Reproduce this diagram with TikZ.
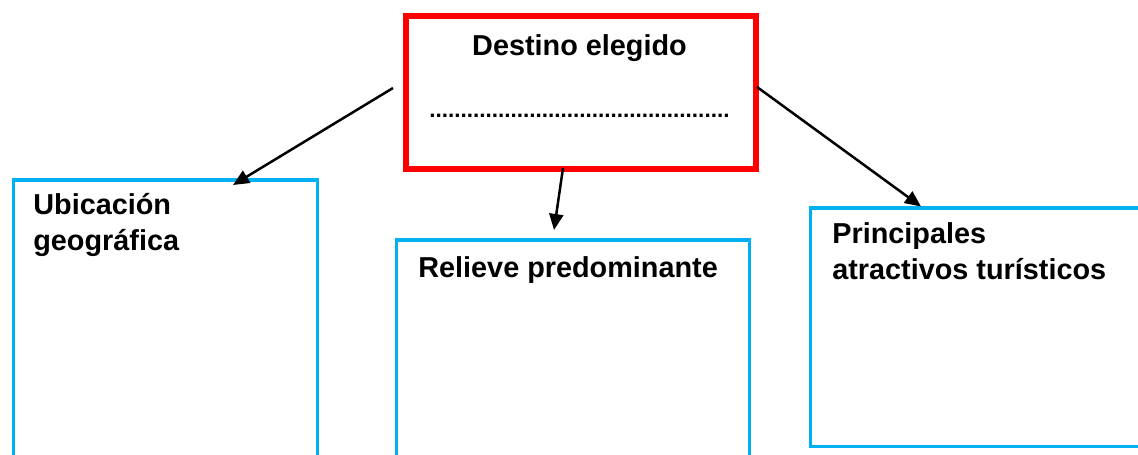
\documentclass[tikz,border=0pt]{standalone}
\usepackage{fontspec}
\setmainfont{Liberation Sans}
\usetikzlibrary{arrows.meta}
\definecolor{boxblue}{RGB}{0,176,240}
\definecolor{boxred}{RGB}{255,0,0}

\begin{document}
\begin{tikzpicture}[
        bluebox/.style = {draw = boxblue, line width = 0.066cm, anchor = north west, inner sep = 0},
        title/.style = {anchor = base west, align = left, inner sep = 0, font = \fontsize{16.4}{20.6}\selectfont\bfseries},
        arrow/.style = {-{Triangle[length = 0.32cm, width = 0.28cm]}, line width = 0.05cm}
    ]
        \useasboundingbox (0, 0) rectangle (22.76, 9.1);
        \clip (0, 0) rectangle (22.76, 9.1);
        \node [draw = boxred, line width = 0.11cm, minimum width = 7cm, minimum height = 3.06cm, inner sep = 0] (destino) at (11.62, 7.25) {};
        \node [anchor = base, inner sep = 0, font = \fontsize{16.4}{20.6}\selectfont\bfseries] (destinotxt) at (11.59, 7.98) {Destino elegido};
        \node [anchor = base west, inner sep = 0, font = \fontsize{12.8}{15}\selectfont\bfseries] (puntos) at (8.58, 6.74) {................................................};
        \node [bluebox, minimum width = 6.09cm, minimum height = 6.1cm] (ubicacion) at (0.23, 5.53) {};
        \node [bluebox, minimum width = 7.05cm, minimum height = 5cm] (relieve) at (7.9, 4.33) {};
        \node [bluebox, minimum width = 7.1cm, minimum height = 4.77cm] (atractivos) at (16.17, 4.97) {};
        % base of the last line
        \node [title] (ubicaciontxt) at (0.66, 4.08) {Ubicación\\geográfica};
        \node [title] (relievetxt) at (8.36, 3.54) {Relieve predominante};
        \node [title] (atractivostxt) at (16.64, 3.5) {Principales\\atractivos turísticos};
        % ends of the arrows
        \coordinate (izq) at (7.86, 7.34);
        \coordinate (centro) at (11.26, 5.74);
        \coordinate (der) at (15.14, 7.36);
        \coordinate (ubicacionpunta) at (4.66, 5.4);
        \coordinate (relievepunta) at (11.08, 4.5);
        \coordinate (atractivospunta) at (18.42, 4.97);
        \draw [arrow] (izq) -- (ubicacionpunta);
        \draw [arrow] (centro) -- (relievepunta);
        \draw [arrow] (der) -- (atractivospunta);
    \end{tikzpicture}
\end{document}
